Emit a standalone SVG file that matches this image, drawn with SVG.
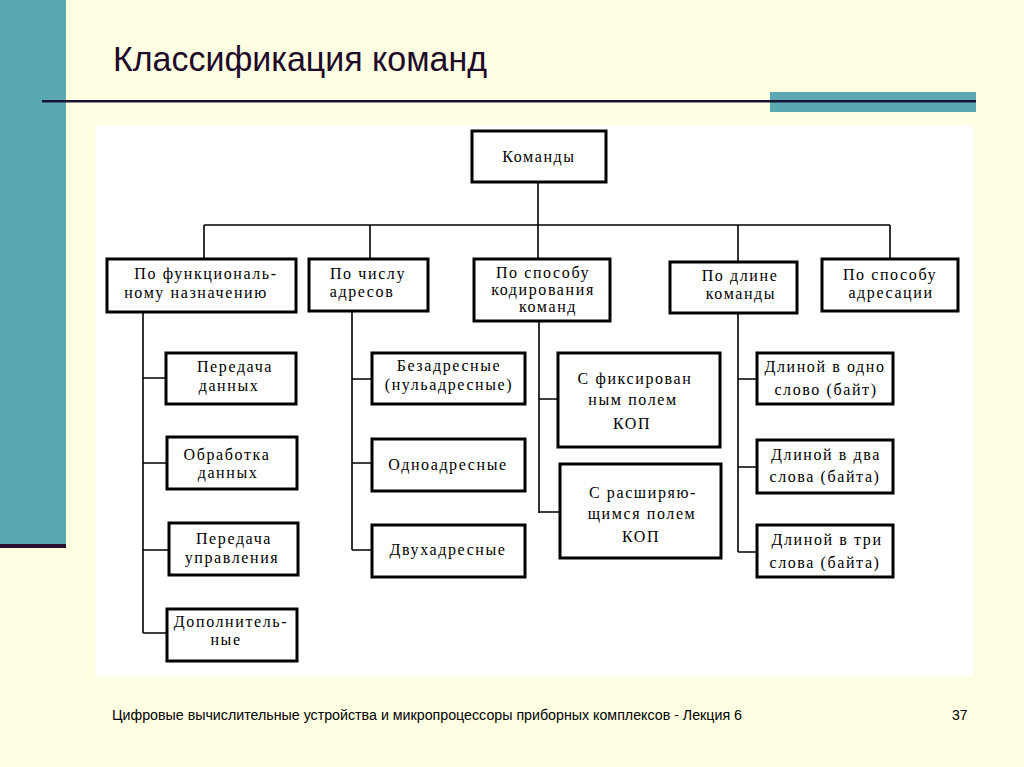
<svg xmlns="http://www.w3.org/2000/svg" width="1024" height="767" viewBox="0 0 1024 767">
<style>
.box{fill:#fff;stroke:#000;stroke-width:3}
.t{font-family:"Liberation Serif","DejaVu Serif",serif;font-size:16px;fill:#000;text-anchor:middle;letter-spacing:1.6px}
.c{fill:none;stroke:#000;stroke-width:1.6}
</style>
<rect x="0" y="0" width="1024" height="767" fill="#FEFEE3"/>
<rect x="0" y="0" width="66" height="545" fill="#5AA9B2"/>
<rect x="0" y="544" width="66" height="4" fill="#2A1030"/>
<rect x="770" y="92" width="206" height="20" fill="#5AA9B2"/>
<rect x="42" y="100" width="934" height="2.5" fill="#1A1432"/>
<text x="113" y="71" font-family="'Liberation Sans',Arial,sans-serif" font-size="35" fill="#1E0A28" textLength="374" lengthAdjust="spacingAndGlyphs">Классификация команд</text>
<rect x="95" y="125" width="878" height="551" fill="#fff"/>

<g id="connectors">
<path class="c" d="M538 182V259M204 225H890M204 225V259M370 225V259M738 225V262M890 225V259"/>
<path class="c" d="M143 312V633M143 378H166M143 463H167M143 550H169M143 633H167"/>
<path class="c" d="M352 312V550M352 379H372M352 463H372M352 550H372"/>
<path class="c" d="M539 321V513M539 399H558M539 512H559"/>
<path class="c" d="M738 313V552M738 379H757M738 467H757M738 552H757"/>
</g>

<g id="n-komandy"><rect class="box" x="472" y="131" width="134" height="51"/><text class="t" x="539" y="162">Команды</text></g>
<g id="n-func"><rect class="box" x="107" y="259" width="189" height="53"/><text class="t" x="206" y="279">По функциональ-</text><text class="t" x="196" y="298">ному  назначению</text></g>
<g id="n-addr"><rect class="box" x="309" y="259" width="119" height="52"/><text class="t" x="368" y="279">По числу</text><text class="t" x="362" y="297">адресов</text></g>
<g id="n-cod"><rect class="box" x="474" y="259" width="136" height="62"/><text class="t" x="543" y="278">По способу</text><text class="t" x="543" y="295">кодирования</text><text class="t" x="548" y="312">команд</text></g>
<g id="n-len"><rect class="box" x="670" y="262" width="127" height="51"/><text class="t" x="740" y="281">По длине</text><text class="t" x="741" y="299">команды</text></g>
<g id="n-adrs"><rect class="box" x="822" y="259" width="136" height="52"/><text class="t" x="890" y="280">По способу</text><text class="t" x="891" y="298">адресации</text></g>

<g id="n-pd"><rect class="box" x="166" y="353" width="130" height="51"/><text class="t" x="235" y="372">Передача</text><text class="t" x="229" y="391">данных</text></g>
<g id="n-od"><rect class="box" x="167" y="437" width="130" height="52"/><text class="t" x="227" y="460">Обработка</text><text class="t" x="228" y="478">данных</text></g>
<g id="n-pu"><rect class="box" x="169" y="523" width="129" height="52"/><text class="t" x="234" y="544">Передача</text><text class="t" x="232" y="563">управления</text></g>
<g id="n-dop"><rect class="box" x="167" y="609" width="130" height="52"/><text class="t" x="231" y="627">Дополнитель-</text><text class="t" x="226" y="645">ные</text></g>

<g id="n-bez"><rect class="box" x="372" y="353" width="153" height="51"/><text class="t" x="449" y="371">Безадресные</text><text class="t" x="449" y="390">(нульадресные)</text></g>
<g id="n-odn"><rect class="box" x="372" y="439" width="153" height="52"/><text class="t" x="448" y="470">Одноадресные</text></g>
<g id="n-dvu"><rect class="box" x="372" y="525" width="153" height="52"/><text class="t" x="448" y="555">Двухадресные</text></g>

<g id="n-fix"><rect class="box" x="558" y="353" width="162" height="94"/><text class="t" x="635" y="384">С фиксирован</text><text class="t" x="633" y="405">ным полем</text><text class="t" x="632" y="429">КОП</text></g>
<g id="n-ext"><rect class="box" x="560" y="464" width="161" height="94"/><text class="t" x="643" y="498">С расширяю-</text><text class="t" x="642" y="519">щимся полем</text><text class="t" x="641" y="542">КОП</text></g>

<g id="n-l1"><rect class="box" x="757" y="353" width="136" height="51"/><text class="t" x="825" y="372">Длиной в одно</text><text class="t" x="826" y="395">слово (байт)</text></g>
<g id="n-l2"><rect class="box" x="757" y="440" width="136" height="53"/><text class="t" x="826" y="460">Длиной в два</text><text class="t" x="825" y="482">слова (байта)</text></g>
<g id="n-l3"><rect class="box" x="757" y="525" width="136" height="52"/><text class="t" x="827" y="545">Длиной в три</text><text class="t" x="825" y="568">слова (байта)</text></g>

<text x="112" y="720" font-family="'Liberation Sans',Arial,sans-serif" font-size="14" fill="#000" textLength="630" lengthAdjust="spacingAndGlyphs">Цифровые вычислительные устройства и микропроцессоры приборных комплексов - Лекция 6</text>
<text x="952" y="720" font-family="'Liberation Sans',Arial,sans-serif" font-size="14" fill="#000">37</text>
</svg>
